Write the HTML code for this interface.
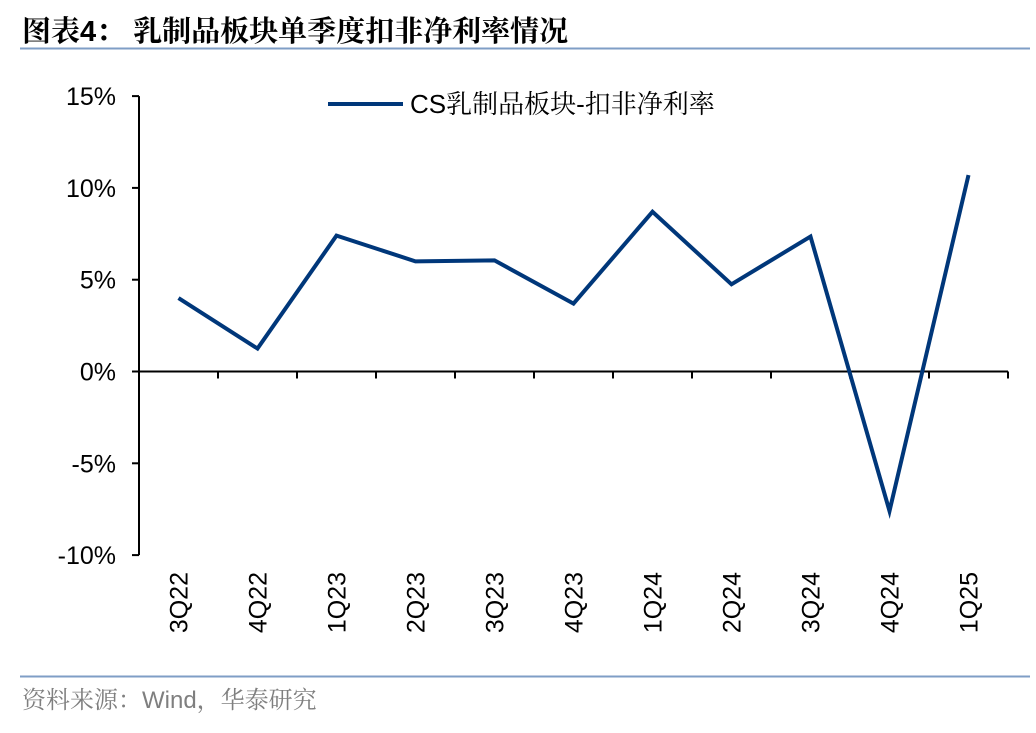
<!DOCTYPE html>
<html><head><meta charset="utf-8"><style>
body{margin:0;background:#fff;}
svg text{font-family:"Liberation Sans","Noto Sans CJK SC",sans-serif;}
svg text.cjk{font-family:"Liberation Sans","Noto Serif CJK SC",serif;}
</style></head><body>
<svg width="1036" height="728" viewBox="0 0 1036 728">
<text class="cjk" x="22" y="41" font-size="29" font-weight="bold" fill="#000">图表4：  乳制品板块单季度扣非净利率情况</text>
<line x1="20" y1="48.5" x2="1030" y2="48.5" stroke="#7f9ec6" stroke-width="2"/>
<g id="axes"></g>
<g id="series"></g>
<line x1="328" y1="104" x2="403" y2="104" stroke="#00377a" stroke-width="4"/>
<text class="cjk" x="410" y="113" font-size="26" fill="#000">CS乳制品板块-扣非净利率</text>
<line x1="20" y1="676.5" x2="1030" y2="676.5" stroke="#7f9ec6" stroke-width="2"/>
<text class="cjk" x="22" y="708" font-size="24" fill="#7f7f7f">资料来源：Wind，华泰研究</text>
</svg>
<script>
const categories=["3Q22","4Q22","1Q23","2Q23","3Q23","4Q23","1Q24","2Q24","3Q24","4Q24","1Q25"];
const values=[4.0,1.25,7.4,6.0,6.05,3.7,8.7,4.75,7.35,-7.6,10.7];
const yTicks=[15,10,5,0,-5,-10];
const yTickLabels=["15%","10%","5%","0%","-5%","-10%"];
const NS="http://www.w3.org/2000/svg";
const x0=139,step=79,yZero=371.5,pxPer=18.36;
const xPos=i=>x0+step*(i+0.5);
const yPos=v=>yZero-v*pxPer;
function mk(tag,attrs,parent){const e=document.createElementNS(NS,tag);for(const k in attrs)e.setAttribute(k,attrs[k]);parent.appendChild(e);return e;}
const axes=document.getElementById('axes');
let yl=mk('line',{x1:x0,y1:yPos(15),x2:x0,y2:yPos(-10),stroke:'#000','stroke-width':2},axes);


yTicks.forEach((t,i)=>{
 const y=yPos(t);
 const tk=mk('line',{x1:x0-7,y1:y,x2:x0,y2:y,stroke:'#000','stroke-width':2},axes);
 
 
 const tx=mk('text',{x:x0-23,y:y+9,'font-size':25,'text-anchor':'end',fill:'#000'},axes);
 tx.textContent=yTickLabels[i];
 
 
});
let xl=mk('line',{x1:x0,y1:yZero,x2:x0+step*categories.length,y2:yZero,stroke:'#000','stroke-width':2},axes);


for(let i=1;i<=categories.length;i++){
 const x=x0+step*i;
 const tk=mk('line',{x1:x,y1:yZero,x2:x,y2:yZero+7,stroke:'#000','stroke-width':2},axes);
 
 
}
categories.forEach((c,i)=>{
 const x=xPos(i)+9,y=572;
 const tx=mk('text',{x:x,y:y,'font-size':25,'text-anchor':'end',fill:'#000',transform:`rotate(-90 ${x} ${y})`},axes);
 tx.textContent=c;
 
 
});
const pts=values.map((v,i)=>xPos(i)+','+yPos(v)).join(' ');
const pl=mk('polyline',{points:pts,fill:'none',stroke:'#00377a','stroke-width':4,'stroke-linejoin':'miter'},document.getElementById('series'));


</script>
</body></html>
